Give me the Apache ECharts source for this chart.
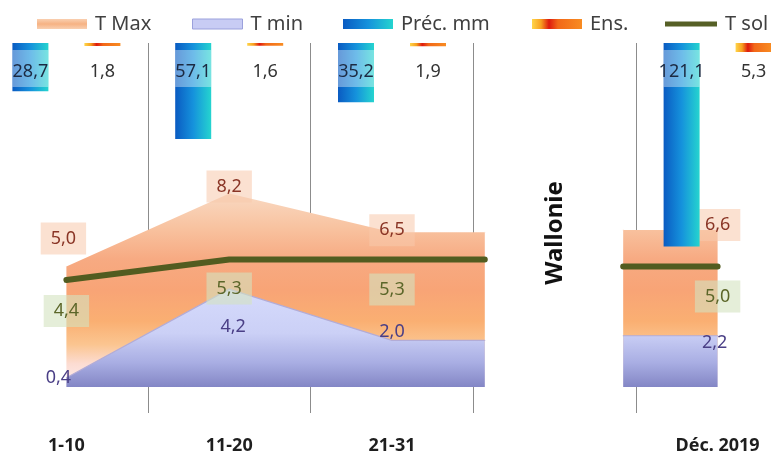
<!DOCTYPE html>
<html><head><meta charset="utf-8">
<script src="https://cdn.jsdelivr.net/npm/echarts@6/dist/echarts.min.js"></script>
<style>html,body{margin:0;padding:0;background:#fff}#c{width:771px;height:451px}</style>
</head><body><div id="c"></div>
<script>
// ---- data ----
const categories = ['1-10', '11-20', '21-31', '', 'Déc. 2019'];
const tMax = [5.0, 8.2, 6.5, null, 6.6];
const tMin = [0.4, 4.2, 2.0, null, 2.2];
const tSol = [4.4, 5.3, 5.3, null, 5.0];
const precip = [28.7, 57.1, 35.2, null, 121.1];
const sunshine = [1.8, 1.6, 1.9, null, 5.3];
const seriesNames = ['T Max', 'T min', 'Préc. mm', 'Ens.', 'T sol'];
const sideLabel = 'Wallonie';

// ---- layout / style ----
const FONT = '"Noto Sans", "Open Sans", sans-serif';
const extLeft = 0.57, extRight = 0.58;
const tMaxOff = [[-3, -28], [0, -7], [0, -2], null, [0, -5]];
const tMinOff = [[-8, 0], [4, 38], [0, -9], null, [-3, 7]];
const tSolOff = [[0, 31], [0, 29], [0, 30], null, [0, 30]];
const fmt = v => v.toFixed(1).replace('.', ',');

function bandData(values, offs) {
  const out = [];
  for (let i = 0; i < 3; i++) out.push({ value: [i, values[i]], label: { offset: offs[i] } });
  out.push({ value: [2 + extLeft, values[2]], label: { show: false } });
  out.push({ value: [3, '-'] });
  out.push({ value: [4 - extRight, values[4]], label: { show: false } });
  out.push({ value: [4, values[4]], label: { offset: offs[4] } });
  return out;
}
const lg = (x, y, x2, y2, stops) => new echarts.graphic.LinearGradient(x, y, x2, y2, stops.map(c => ({ offset: c[0], color: c[1] })));

const gMax = lg(0, 0, 0, 1, [[0, '#f9d9c2'], [0.18, '#f8c29f'], [0.34, '#f7aa82'], [0.5, '#f8a476'], [0.66, '#faaf72'], [0.78, '#fbc590'], [0.88, '#fcdcd2'], [1, '#fdeff1']]);
const gMin = lg(0, 0, 0, 1, [[0, '#d6dbfc'], [0.45, '#cbd0f6'], [0.75, '#a9aee3'], [1, '#8386c5']]);
const gPrec = lg(0, 0, 1, 0, [[0, '#0a5bc2'], [0.5, '#1592dc'], [1, '#25d4cf']]);
const gSun = lg(0, 0, 1, 0, [[0, '#ffd54a'], [0.18, '#f7a020'], [0.34, '#de1a0e'], [0.52, '#f26818'], [1, '#f88c22']]);
const gMaxLeg = lg(0, 0, 0, 1, [[0, '#f9cfb0'], [0.5, '#f6b283'], [1, '#f9cfb0']]);

const labelText = (color, bg) => ({
  show: true, position: 'inside', fontFamily: FONT, fontSize: 18, color: color,
  backgroundColor: bg || 'transparent', padding: bg ? [7, 10] : 0,
  formatter: p => fmt(p.value[1])
});
const barLabel = (bg, color) => ({
  show: true, position: 'insideTop', distance: 7, fontFamily: FONT, fontSize: 18, color: color,
  width: 36, height: 31, lineHeight: 31, align: 'center',
  backgroundColor: bg, padding: [6, 0, 0, 0], formatter: p => fmt(p.value)
});

const legendPos = [37, 192, 343, 532, 665];
const legendStyles = [
  { itemStyle: { color: gMaxLeg } },
  { itemStyle: { color: '#c8ccf4', borderColor: '#9ba1dc', borderWidth: 1 } },
  { itemStyle: { color: gPrec } },
  { itemStyle: { color: gSun } },
  { itemStyle: { color: '#566026' }, itemHeight: 5, itemWidth: 52 }
];

const option = {
  animation: false,
  backgroundColor: '#fff',
  legend: seriesNames.map((n, i) => Object.assign({
    data: [n], left: legendPos[i], top: 14, padding: 0, icon: 'rect',
    itemWidth: 50, itemHeight: 10, selectedMode: false,
    textStyle: { fontFamily: FONT, fontSize: 20, color: '#404040', padding: [0, 0, 0, 3] }
  }, legendStyles[i])),
  grid: [
    { left: -15, top: 43, width: 814, height: 370, outerBoundsMode: 'none', containLabel: false },
    { left: -15, top: 43, width: 814, height: 344, outerBoundsMode: 'none', containLabel: false }
  ],
  xAxis: [
    { type: 'category', gridIndex: 0, data: categories, boundaryGap: true,
      axisLine: { show: false }, axisTick: { show: false },
      splitLine: { show: true, interval: 0, lineStyle: { color: '#8c8c8c', width: 1 } },
      axisLabel: { interval: 0, margin: 24, fontFamily: FONT, fontWeight: 'bold', fontSize: 18, color: '#1e1e1e' } },
    { type: 'value', gridIndex: 1, min: -0.5, max: 4.5, show: false }
  ],
  yAxis: [
    { type: 'value', gridIndex: 0, inverse: true, min: 0, max: 220.2, show: false },
    { type: 'value', gridIndex: 1, min: -0.3, max: 14.815, show: false },
    { type: 'value', gridIndex: 1, min: 0, max: 14.76, show: false }
  ],
  series: [
    { name: 'T Max', type: 'line', xAxisIndex: 1, yAxisIndex: 1, z: 2,
      data: bandData(tMax, tMaxOff), symbol: 'circle', symbolSize: 1,
      itemStyle: { color: '#f9d9c2' }, lineStyle: { width: 0, color: '#f9d9c2' },
      areaStyle: { origin: 'start', color: gMax, opacity: 1 },
      label: labelText('#8a3526', 'rgba(247,200,172,0.55)') },
    { name: 'T min', type: 'line', xAxisIndex: 1, yAxisIndex: 2, z: 3,
      data: bandData(tMin, tMinOff), symbol: 'circle', symbolSize: 1,
      itemStyle: { color: '#b3acd6' }, lineStyle: { width: 1.2, color: '#b3acd6' },
      areaStyle: { origin: 'start', color: gMin, opacity: 1 },
      label: labelText('#4a3f86') },
    { name: 'Préc. mm', type: 'bar', xAxisIndex: 0, yAxisIndex: 0, z: 4,
      data: precip, barWidth: 36, barGap: '100%',
      itemStyle: { color: gPrec },
      label: barLabel('rgba(255,255,255,0.38)', '#1c2a42') },
    { name: 'Ens.', type: 'bar', xAxisIndex: 0, yAxisIndex: 0, z: 4,
      data: sunshine, barWidth: 36, barGap: '100%',
      itemStyle: { color: gSun },
      label: barLabel('transparent', '#333333') },
    { name: 'T sol', type: 'line', xAxisIndex: 1, yAxisIndex: 1, z: 5,
      data: bandData(tSol, tSolOff), symbol: 'circle', symbolSize: 1,
      itemStyle: { color: '#525c20' }, lineStyle: { width: 6, color: '#525c20', cap: 'round' },
      label: labelText('#5b6629', 'rgba(212,226,192,0.6)') }
  ],
  graphic: [
    { type: 'text', x: 555, y: 233, rotation: Math.PI / 2, z: 10,
      style: { text: sideLabel, font: 'bold 24px ' + FONT, fill: '#111', align: 'center', verticalAlign: 'middle' } }
  ]
};
const chart = echarts.init(document.getElementById('c'), null, { renderer: 'canvas' });
chart.setOption(option);
</script></body></html>
